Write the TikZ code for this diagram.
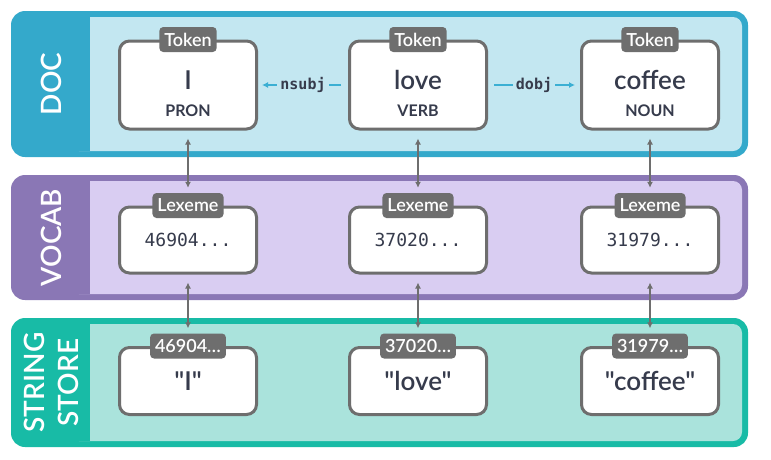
\documentclass[tikz,border=0pt]{standalone}
\usepackage{fontspec}
\setmainfont{Lato}
\newfontfamily\semilato{Lato Semibold}
\setmonofont{DejaVu Sans Mono}
\usepackage{tikz}
\usetikzlibrary{arrows.meta,positioning,calc}
\pgfdeclarelayer{background}
\pgfsetlayers{background,main}
\definecolor{docdark}{HTML}{34A9CB}
\definecolor{doclight}{HTML}{C3E7F1}
\definecolor{vocdark}{HTML}{8A77B5}
\definecolor{voclight}{HTML}{D9CDF2}
\definecolor{strdark}{HTML}{18BBA6}
\definecolor{strlight}{HTML}{AAE3DC}
\definecolor{boxgray}{HTML}{6E6E6E}
\definecolor{ink}{HTML}{363B4C}
\definecolor{relblue}{HTML}{3BAFD3}
\tikzstyle{token}=[draw=boxgray, line width=3pt, fill=white, rounded corners=10pt,
minimum width=137pt, minimum height=88pt, align=center, text=ink, inner sep=0pt,
font=\fontsize{16}{27}\selectfont]
\tikzstyle{lexeme}=[token, minimum height=66pt, font=\ttfamily\fontsize{18}{20}\selectfont]
\tikzstyle{strng}=[token, minimum height=67pt, font=\semilato\fontsize{26}{30}\selectfont]
\tikzstyle{tag}=[fill=boxgray, text=white, rounded corners=4pt, minimum height=25pt,
inner xsep=5pt, inner ysep=0pt, font=\semilato\fontsize{18}{20}\selectfont]
\tikzstyle{link}=[draw, line width=2pt, color=boxgray, shorten <=8pt, shorten >=5pt,
{Latex[length=6pt,width=6pt]}-{Latex[length=6pt,width=6pt]}]
\tikzstyle{rel}=[draw, line width=2pt, color=relblue, -{Latex[length=6pt,width=6pt]}]
\tikzstyle{rellabel}=[fill=doclight, text=ink, inner xsep=3pt, font=\ttfamily\bfseries\fontsize{15}{16}\selectfont]
\tikzstyle{bandlabel}=[rotate=90, text=white, align=center, font=\semilato\fontsize{28}{34}\selectfont]
\newcommand{\tokbox}[3]{node (p#1)[token]{\rule{0pt}{36pt}{\semilato\fontsize{26}{30}\selectfont #2}\\{\bfseries #3}}}
\newcommand{\lexbox}[2]{node (l#1)[lexeme]{#2}}
\newcommand{\strbox}[2]{node (s#1)[strng]{#2}}
\newcommand{\boxtag}[3]{\path (#1.north) node (#2)[tag]{#3};}
\newcommand{\band}[6]{%
	\begin{pgfonlayer}{background} % outer coloured frame
		\path[fill=#3, rounded corners=14pt] (11,-#1) rectangle (748,-#2);
		% light inner panel
		\path[fill=#4, rounded corners=9pt] (70,-#1-6) rectangle (742,-#2+6);
		\path[fill=#3] (60,-#1-6) rectangle (90,-#2+6);
		\path (51,{-(#1+#2)/2}) node (#6)[bandlabel]{#5};
	\end{pgfonlayer}}

\begin{document}
\begin{tikzpicture}[x=1pt,y=1pt]
	\useasboundingbox (0,0) rectangle (771,-459);
	
	% Draw diagram elements
	\path (188,-85) \tokbox{1}{I}{PRON};
	\path (p1)+(230,0) \tokbox{2}{love}{VERB};
	\path (p2)+(232,0) \tokbox{3}{coffee}{NOUN};
	\path (p1)+(0,-155) \lexbox{1}{46904...};
	\path (p2)+(0,-155) \lexbox{2}{37020...};
	\path (p3)+(0,-155) \lexbox{3}{31979...};
	\path (l1)+(0,-141) \strbox{1}{"I"};
	\path (l2)+(0,-141) \strbox{2}{"love"};
	\path (l3)+(0,-141) \strbox{3}{"coffee"};
	
	% Tags on the boxes
	\boxtag{p1}{t1}{Token}
	\boxtag{p2}{t2}{Token}
	\boxtag{p3}{t3}{Token}
	\boxtag{l1}{x1}{Lexeme}
	\boxtag{l2}{x2}{Lexeme}
	\boxtag{l3}{x3}{Lexeme}
	\boxtag{s1}{h1}{46904…}
	\boxtag{s2}{h2}{37020…}
	\boxtag{s3}{h3}{31979…}
	
	% Draw arrows between elements
	\path [link] (p1.south) -- (x1.north);
	\path [link] (p2.south) -- (x2.north);
	\path [link] (p3.south) -- (x3.north);
	\path [link] (l1.south) -- (h1.north);
	\path [link] (l2.south) -- (h2.north);
	\path [link] (l3.south) -- (h3.north);
	\path [rel, shorten <=7pt, shorten >=4pt] (p2.west) -- node [rellabel]{nsubj} (p1.east);
	\path [rel, shorten <=6pt, shorten >=5pt] (p2.east) -- node [rellabel]{dobj} (p3.west);
	
	\band{11}{157}{docdark}{doclight}{DOC}{b1}
	\band{175}{300}{vocdark}{voclight}{VOCAB}{b2}
	\band{318}{447}{strdark}{strlight}{STRING\\STORE}{b3}
	
\end{tikzpicture}
\end{document}
